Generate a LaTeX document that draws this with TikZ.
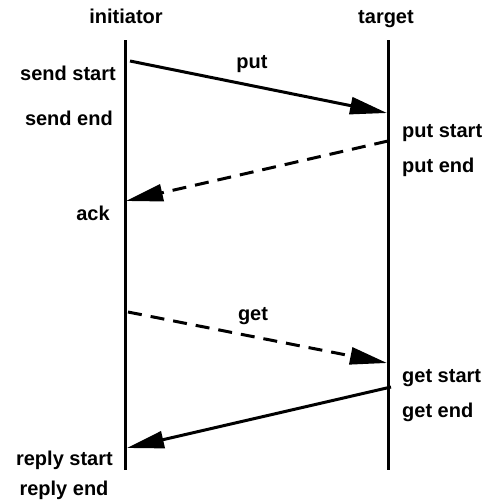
\documentclass[tikz,border=0pt]{standalone}
\usepackage{fontspec}
\setmainfont{Liberation Sans}
\usetikzlibrary{arrows.meta}
\begin{document}
\begin{tikzpicture}[x=1pt,y=-1pt,
  lbl/.style={inner sep=0pt,font=\fontsize{20}{24}\selectfont\bfseries},
  lifeline/.style={line width=3pt},
  msg/.style={line width=3pt,-{Triangle[length=37pt,width=17pt]}},
  dmsg/.style={msg,dash pattern=on 14pt off 9pt}]
\useasboundingbox (0,0) rectangle (487,501);
% column heads
\node[lbl,anchor=base] (hinit) at (126,23) {initiator};
\node[lbl,anchor=base] (htgt) at (386,23) {target};
% lifelines
\coordinate (i0) at (125,40);
\coordinate (i1) at (125,470);
\coordinate (t0) at (388,40);
\coordinate (t1) at (388,470);
\draw[lifeline] (i0) -- (i1);
\draw[lifeline] (t0) -- (t1);
% message end points
\coordinate (putA) at (130,61);
\coordinate (putB) at (387,113);
\coordinate (ackA) at (388,141);
\coordinate (ackB) at (126,201);
\coordinate (getA) at (128,312);
\coordinate (getB) at (387,363);
\coordinate (repA) at (391,387);
\coordinate (repB) at (127,448);
% messages
\draw[msg] (putA) -- (putB);
\draw[dmsg] (ackA) -- (ackB);
\draw[dmsg] (getA) -- (getB);
\draw[msg] (repA) -- (repB);
% labels
\node[lbl,anchor=base] (lput) at (252,68) {put};
\node[lbl,anchor=base] (lget) at (253,320) {get};
\node[lbl,anchor=base east] (sstart) at (116,80) {send start};
\node[lbl,anchor=base east] (send) at (113,125) {send end};
\node[lbl,anchor=base] (lack) at (93,220) {ack};
\node[lbl,anchor=base east] (rstart) at (113,465) {reply start};
\node[lbl,anchor=base] (rend) at (64,495) {reply end};
\node[lbl,anchor=base west] (pstart) at (402,137) {put start};
\node[lbl,anchor=base west] (pend) at (402,172) {put end};
\node[lbl,anchor=base west] (gstart) at (402,382) {get start};
\node[lbl,anchor=base west] (gend) at (402,417) {get end};
\end{tikzpicture}
\end{document}
